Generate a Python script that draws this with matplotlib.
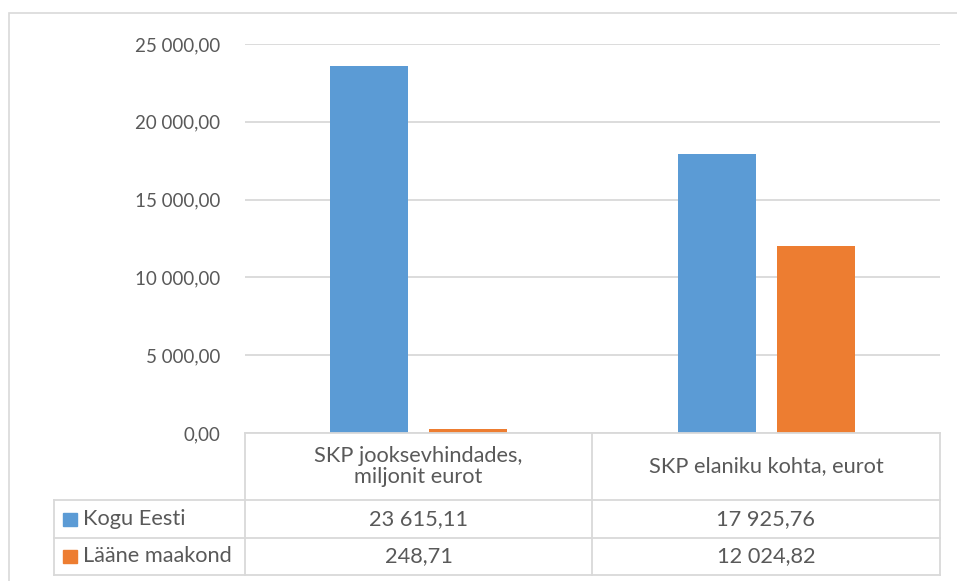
import matplotlib
matplotlib.use("Agg")
import matplotlib.pyplot as plt
from matplotlib.patches import Rectangle
from matplotlib.lines import Line2D

categories = ["SKP jooksevhindades,\nmiljonit eurot", "SKP elaniku kohta, eurot"]
series_names = ["Kogu Eesti", "Lääne maakond"]
kogu_eesti = [23615.11, 17925.76]
laane_maakond = [248.71, 12024.82]
table_kogu = ["23 615,11", "17 925,76"]
table_laane = ["248,71", "12 024,82"]
yticks = [0, 5000, 10000, 15000, 20000, 25000]

W, H = 957, 581
BLUE = "#5B9BD5"
ORANGE = "#ED7D31"
GRID = "#D9D9D9"
TXT = "#595959"
plt.rcParams['font.family'] = ['Lato', 'DejaVu Sans']

fig = plt.figure(figsize=(W / 100, H / 100), dpi=100)

def fx(x):
    return x / W

def fy(y):
    return 1 - y / H

# outer chart border
fig.add_artist(Rectangle((fx(9), fy(H + 5)), fx(W + 10), fy(13) - fy(H + 5),
                         transform=fig.transFigure, fill=False, edgecolor=GRID, lw=1.2))

x0, x1 = 245, 940
y0, ytop = 433, 44
ax = fig.add_axes([fx(x0), fy(y0), fx(x1) - fx(x0), fy(ytop) - fy(y0)])
ax.set_xlim(-0.5, 1.5)
ax.set_ylim(0, 25000)
xs = [0, 1]
bw = 0.225
off = 0.142
ax.bar([x - off for x in xs], kogu_eesti, width=bw, color=BLUE, zorder=3)
ax.bar([x + off for x in xs], laane_maakond, width=bw, color=ORANGE, zorder=3)
ax.set_yticks(yticks)
ax.set_yticklabels([f"{v:,.2f}".replace(",", " ").replace(".", ",") for v in yticks],
                   fontsize=13.5, color=TXT)
ax.tick_params(axis='y', length=0, pad=18)
ax.set_xticks([])
ax.grid(axis='y', color=GRID, lw=1.3, zorder=0)
for s in ax.spines.values():
    s.set_visible(False)

# data table
rows = [433, 500, 538, 575]
cols = [54, 245, 592, 940]
lw = 1.3
def hline(y, xa, xb):
    fig.add_artist(Line2D([fx(xa), fx(xb)], [fy(y), fy(y)], transform=fig.transFigure,
                          color=GRID, lw=lw))
def vline(x, ya, yb):
    fig.add_artist(Line2D([fx(x), fx(x)], [fy(ya), fy(yb)], transform=fig.transFigure,
                          color=GRID, lw=lw))

hline(rows[0], cols[1], cols[3])
for y in rows[1:]:
    hline(y, cols[0], cols[3])
vline(cols[0], rows[1], rows[3])
for x in cols[1:]:
    vline(x, rows[0], rows[3])

fs = 15.7
for i, cat in enumerate(categories):
    cx = (cols[i + 1] + cols[i + 2]) / 2
    fig.text(fx(cx), fy((rows[0] + rows[1]) / 2), cat, ha='center', va='center',
             fontsize=fs, color=TXT, linespacing=1.1)
    fig.text(fx(cx), fy((rows[1] + rows[2]) / 2), table_kogu[i], ha='center', va='center',
             fontsize=fs, color=TXT)
    fig.text(fx(cx), fy((rows[2] + rows[3]) / 2), table_laane[i], ha='center', va='center',
             fontsize=fs, color=TXT)

for r, (name, col) in enumerate(zip(series_names, [BLUE, ORANGE])):
    cy = (rows[r + 1] + rows[r + 2]) / 2
    fig.add_artist(Rectangle((fx(63), fy(cy + 6.5)), fx(14), fy(cy - 6.5) - fy(cy + 6.5),
                             transform=fig.transFigure, color=col))
    fig.text(fx(83), fy(cy), name, ha='left', va='center', fontsize=fs, color=TXT)

fig.savefig("out.png", dpi=100)
